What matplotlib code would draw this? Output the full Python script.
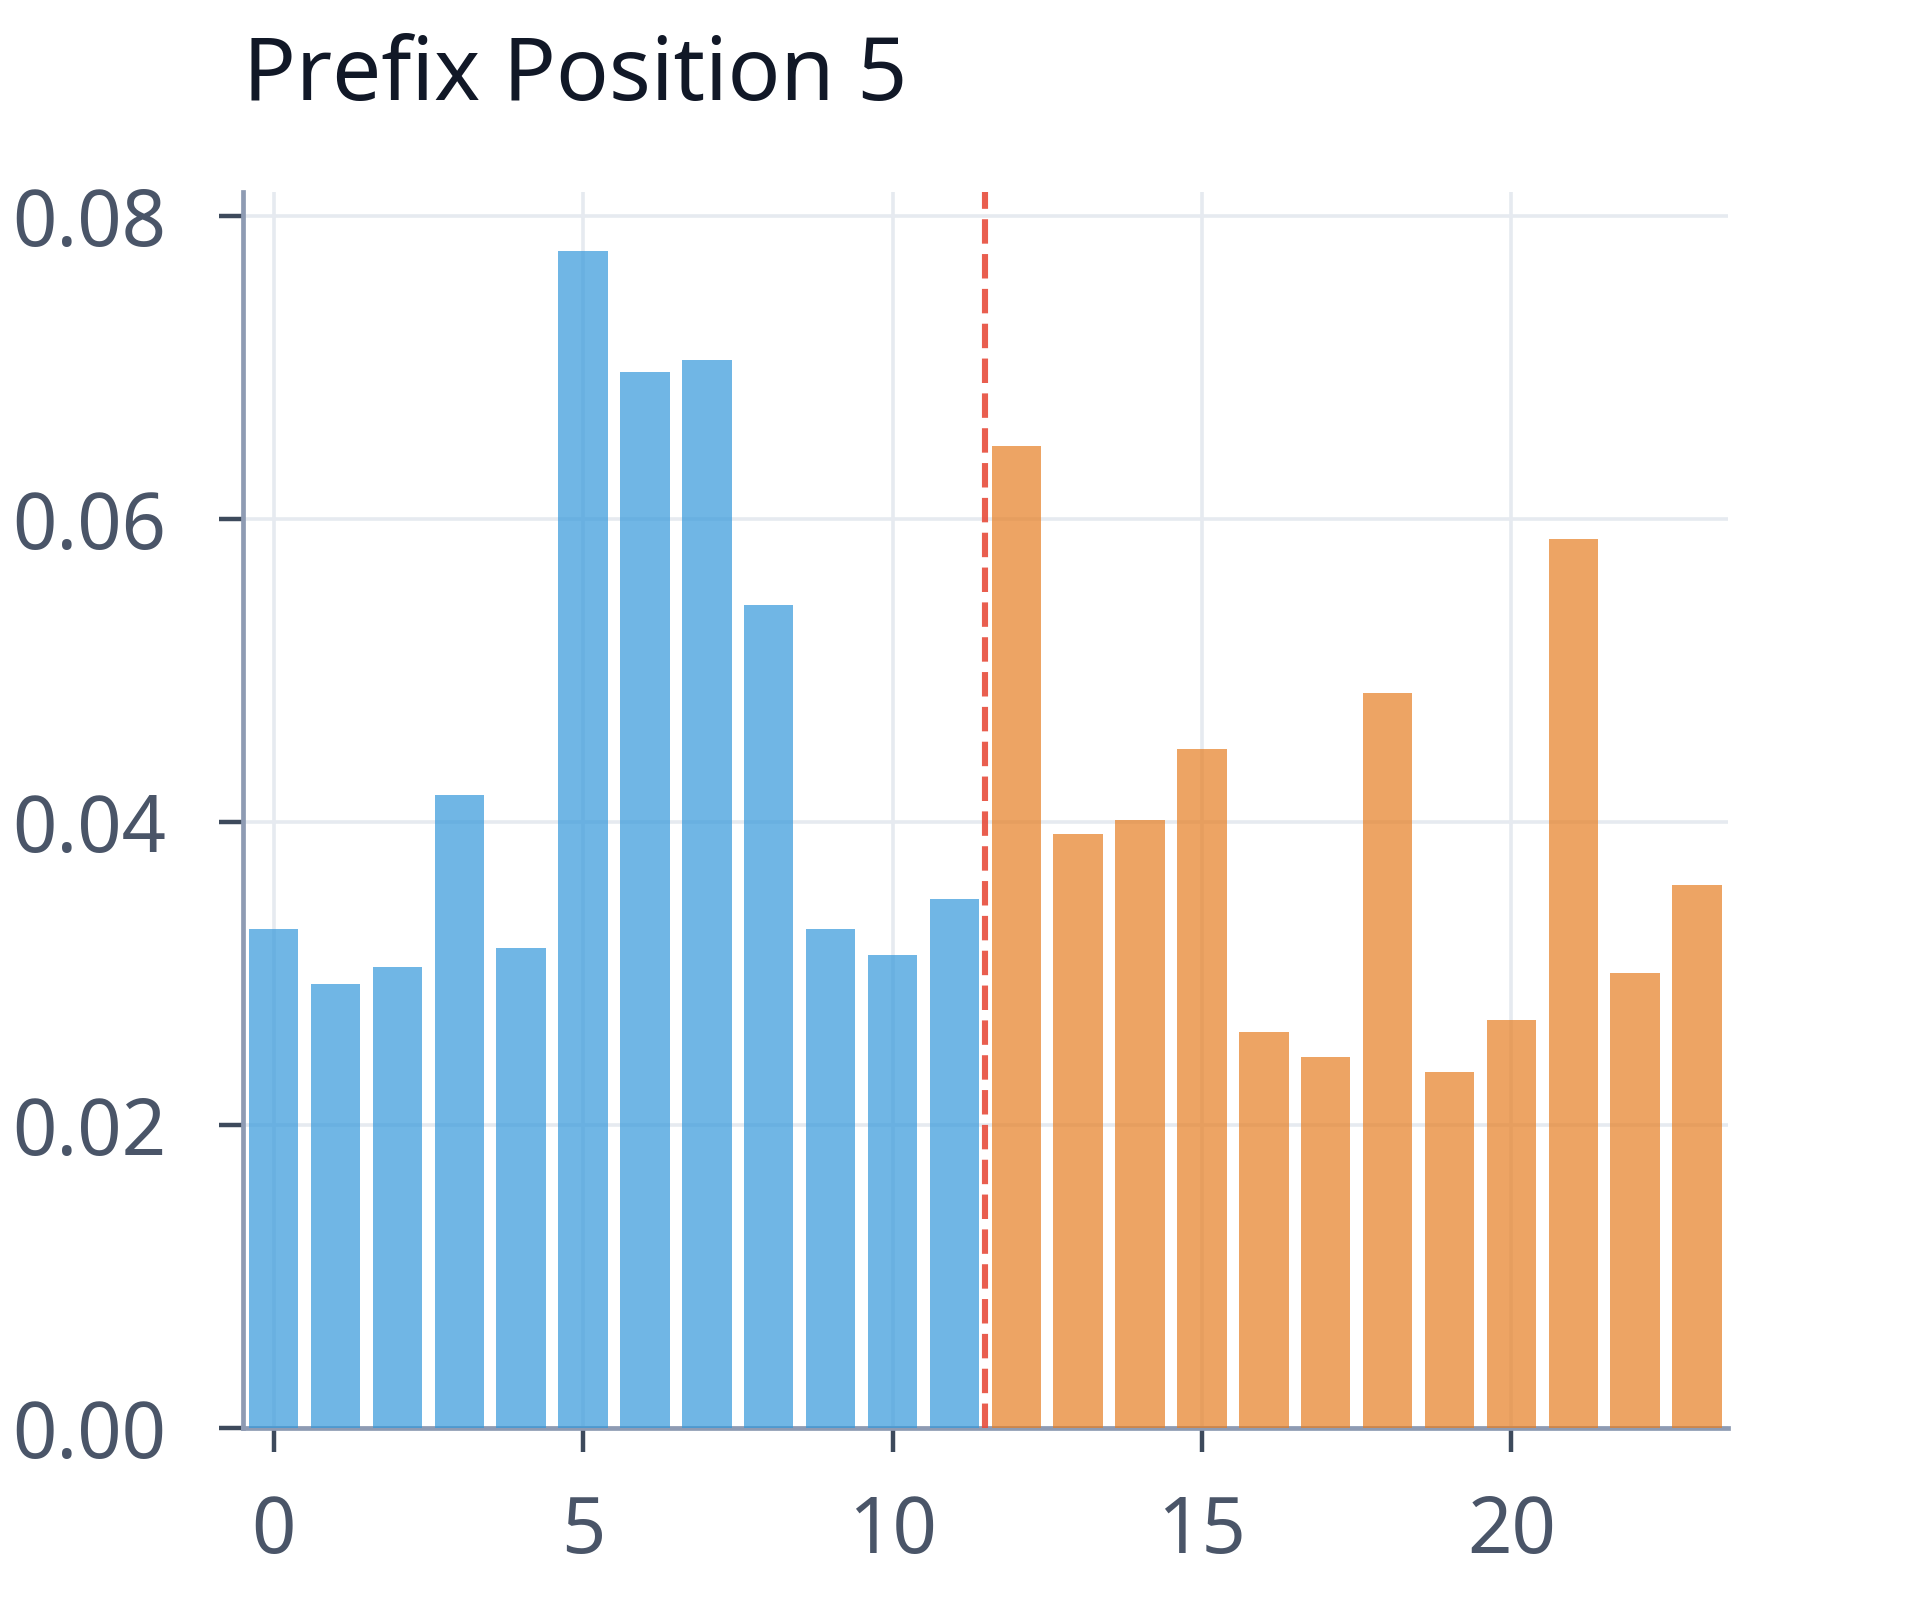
import matplotlib
matplotlib.use("Agg")
import matplotlib.pyplot as plt

plt.rcParams['font.family'] = ['Noto Sans', 'DejaVu Sans']

positions = list(range(24))
values = [0.0329, 0.0293, 0.0304, 0.0418, 0.0317, 0.0777, 0.0697, 0.0705,
          0.0543, 0.0329, 0.0312, 0.0349, 0.0648, 0.0392, 0.0401, 0.0448,
          0.0261, 0.0245, 0.0485, 0.0235, 0.0269, 0.0587, 0.0300, 0.0358]
split_at = 12
title = "Prefix Position 5"

colors = ['#3498db' if p < split_at else '#e67e22' for p in positions]

fig = plt.figure(figsize=(9.6, 8), dpi=200)
ax = fig.add_axes([0.1264, 0.1077, 0.7736, 0.7723])
ax.bar(positions, values, width=0.8, color=colors, alpha=0.7, zorder=3)
ax.axvline(split_at - 0.5, color='#e74c3c', linestyle='--', linewidth=2.2,
           dashes=(4, 1.7), alpha=0.9, zorder=4)

ax.set_xlim(-0.5, 23.5)
ax.set_ylim(0, max(values) * 1.05)
ax.set_xticks([0, 5, 10, 15, 20])
ax.set_yticks([0.0, 0.02, 0.04, 0.06, 0.08])
ax.set_yticklabels(['0.00', '0.02', '0.04', '0.06', '0.08'])

ax.grid(True, color='#e6eaf0', linewidth=1.3, zorder=0)
ax.set_axisbelow(True)
for s in ['top', 'right']:
    ax.spines[s].set_visible(False)
for s in ['left', 'bottom']:
    ax.spines[s].set_color('#8e9bb3')
    ax.spines[s].set_linewidth(1.7)

ax.tick_params(axis='both', colors='#3d4a5c', labelcolor='#4a5568',
               labelsize=28, length=8.5, width=1.6)
ax.tick_params(axis='y', pad=19)
ax.tick_params(axis='x', pad=15)

ax.set_title(title, loc='left', fontsize=31.5, color='#111827', pad=33, x=0.0)

fig.savefig('out.png', dpi=200, facecolor='white')
